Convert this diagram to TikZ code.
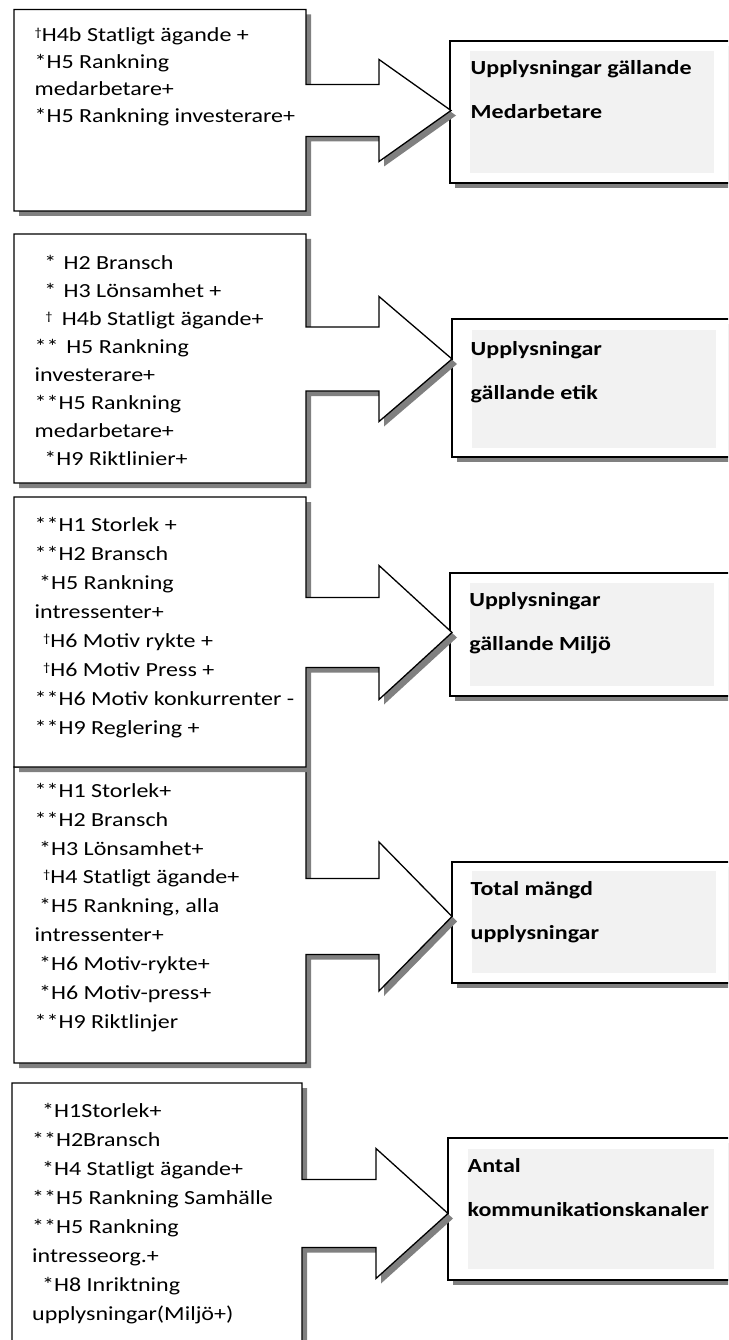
\documentclass[tikz,border=0pt]{standalone}
\usepackage{fontspec}
\setmainfont{Carlito}[FakeStretch=1.2]
\definecolor{shd}{RGB}{128,128,128}
\definecolor{innerfill}{RGB}{242,242,242}
\newcommand\myind[1]{\hspace*{#1pt}}
\newcommand\smalldag{\raisebox{5pt}{\fontsize{12}{12}\selectfont †}}
% L T R B cy shafthalf headhalf shaftendx tipx
\newcommand\callout[9]{%
  \fill[shd,shift={(5,5)}] (#1,#2) -- (#3,#2) -- (#3,{#5-#6}) -- (#8,{#5-#6}) -- (#8,{#5-#7}) -- (#9,#5) -- (#8,{#5+#7}) -- (#8,{#5+#6}) -- (#3,{#5+#6}) -- (#3,#4) -- (#1,#4) -- cycle;
  \filldraw[fill=white,draw=black,line width=1.3pt,line join=miter] (#1,#2) -- (#3,#2) -- (#3,{#5-#6}) -- (#8,{#5-#6}) -- (#8,{#5-#7}) -- (#9,#5) -- (#8,{#5+#7}) -- (#8,{#5+#6}) -- (#3,{#5+#6}) -- (#3,#4) -- (#1,#4) -- cycle;
}
% L T R B innerL innerT innerR innerB
\newcommand\rbox[8]{%
  \fill[shd] ({#1+5},{#2+5}) rectangle ({#3+5},{#4+5});
  \filldraw[fill=white,draw=black,line width=1.3pt] (#1,#2) rectangle (#3,#4);
  \fill[innerfill] (#5,#6) rectangle (#7,#8);
}
\tikzset{
  lefttext/.style={anchor=north west,inner sep=0pt,align=left,
    font=\fontsize{20}{#1}\selectfont},
  righttext/.style={anchor=north west,inner sep=0pt,align=left,
    font=\bfseries\fontsize{20}{44.5}\selectfont},
}
\begin{document}
\begin{tikzpicture}[x=1pt,y=-1pt]
\useasboundingbox (0,0) rectangle (728,1340);
\clip (0,0) rectangle (728,1340);

% right boxes
\rbox{450}{41}{740}{183}{470}{51}{714}{173}
\rbox{452}{319}{740}{457}{472}{330}{716}{448}
\rbox{450}{573}{740}{696}{470}{583}{714}{686}
\rbox{452}{862}{740}{983}{472}{871}{716}{973}
\rbox{448}{1138}{740}{1280}{468}{1149}{714}{1269}

% callouts
\callout{14}{9.5}{306}{211}{110.5}{26}{51}{379}{451}
\callout{14}{234}{306}{483}{359}{32}{62.5}{379}{452}
\callout{14}{767}{306}{1063}{916.5}{38}{74.5}{379}{452}
\callout{14}{497}{306}{767}{632.5}{35}{67}{379}{452}
\callout{12}{1083}{302}{1360}{1213.5}{34}{65}{376}{448}

% left texts (top = first baseline - 0.7*baselineskip)
\node[lefttext=27] (t1) at (34.5,22.6) {\strut\smalldag H4b Statligt ägande +\\*H5 Rankning\\medarbetare+\\*H5 Rankning investerare+};
\node[lefttext=28] (t2) at (34.5,249.4) {\strut\myind{9.7}*\myind{7.3}H2 Bransch\\\myind{9.7}*\myind{7.3}H3 Lönsamhet +\\\myind{10.7}\smalldag\myind{9.4}H4b Statligt ägande+\\**\myind{7.7}H5 Rankning\\investerare+\\**H5 Rankning\\medarbetare+\\\myind{9.7}*H9 Riktlinier+};
\node[lefttext=29] (t3) at (34.5,510.7) {\strut**H1 Storlek +\\**H2 Bransch\\\myind{4.5}*H5 Rankning\\intressenter+\\\myind{8.5}\smalldag H6 Motiv rykte +\\\myind{8.5}\smalldag H6 Motiv Press +\\**H6 Motiv konkurrenter -\\**H9 Reglering +};
\node[lefttext=28.9] (t4) at (34.5,776.8) {\strut**H1 Storlek+\\**H2 Bransch\\\myind{4.5}*H3 Lönsamhet+\\\myind{8.5}\smalldag H4 Statligt ägande+\\\myind{4.5}*H5 Rankning, alla\\intressenter+\\\myind{4.5}*H6 Motiv-rykte+\\\myind{4.5}*H6 Motiv-press+\\**H9 Riktlinjer};
\node[lefttext=29] (t5) at (32,1096.7) {\strut\myind{10}*H1Storlek+\\**H2Bransch\\\myind{10}*H4 Statligt ägande+\\**H5 Rankning Samhälle\\**H5 Rankning\\intresseorg.+\\\myind{10}*H8 Inriktning\\upplysningar(Miljö+)};

% right texts (top = first baseline - 0.7*44.5)
\node[righttext] (r1) at (470.5,42.9) {\strut Upplysningar gällande\\Medarbetare};
\node[righttext] (r2) at (470.5,323.9) {\strut Upplysningar\\gällande etik};
\node[righttext] (r3) at (469.2,574.9) {\strut Upplysningar\\gällande Miljö};
\node[righttext] (r4) at (470.5,863.9) {\strut Total mängd\\upplysningar};
\node[righttext] (r5) at (467.5,1140.9) {\strut Antal\\kommunikationskanaler};
\end{tikzpicture}
\end{document}
